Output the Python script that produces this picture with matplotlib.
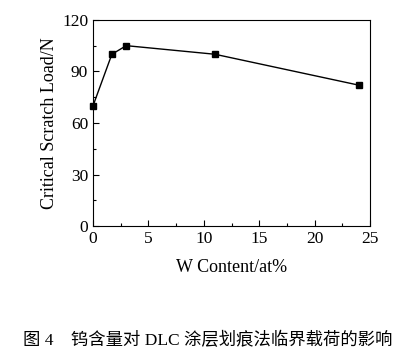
import matplotlib
matplotlib.use("Agg")
import matplotlib.pyplot as plt
from matplotlib.ticker import MultipleLocator

w_content = [0, 1.7, 3, 11, 24]
scratch_load = [70, 100, 105, 100, 82]
xlabel = "W Content/at%"
ylabel = "Critical Scratch Load/N"
caption = "图 4　钨含量对 DLC 涂层划痕法临界载荷的影响"

plt.rcParams['font.family'] = ['Liberation Serif', 'Noto Sans CJK SC']

fig = plt.figure(figsize=(4.08, 3.55), dpi=100)
ax = fig.add_axes([0.228, 0.363, 0.679, 0.581])
ax.plot(w_content, scratch_load, color='black', lw=1.0, marker='s', ms=4.5, clip_on=False)
ax.set_xlim(0, 25)
ax.set_ylim(0, 120)
ax.xaxis.set_major_locator(MultipleLocator(5))
ax.xaxis.set_minor_locator(MultipleLocator(2.5))
ax.yaxis.set_major_locator(MultipleLocator(30))
ax.yaxis.set_minor_locator(MultipleLocator(15))
ax.tick_params(which='both', direction='in', labelsize=12.5, width=0.8)
ax.tick_params(which='major', length=4)
ax.tick_params(which='minor', length=2.5)
for s in ax.spines.values():
    s.set_linewidth(0.8)
ax.set_xlabel(xlabel, fontsize=13, labelpad=9)
ax.set_ylabel(ylabel, fontsize=13, labelpad=3)
fig.text(0.51, 0.04, caption, ha='center', va='center', fontsize=12.5,
         family=['Liberation Serif', 'Noto Sans CJK SC'])
fig.savefig("out.png", dpi=100)
